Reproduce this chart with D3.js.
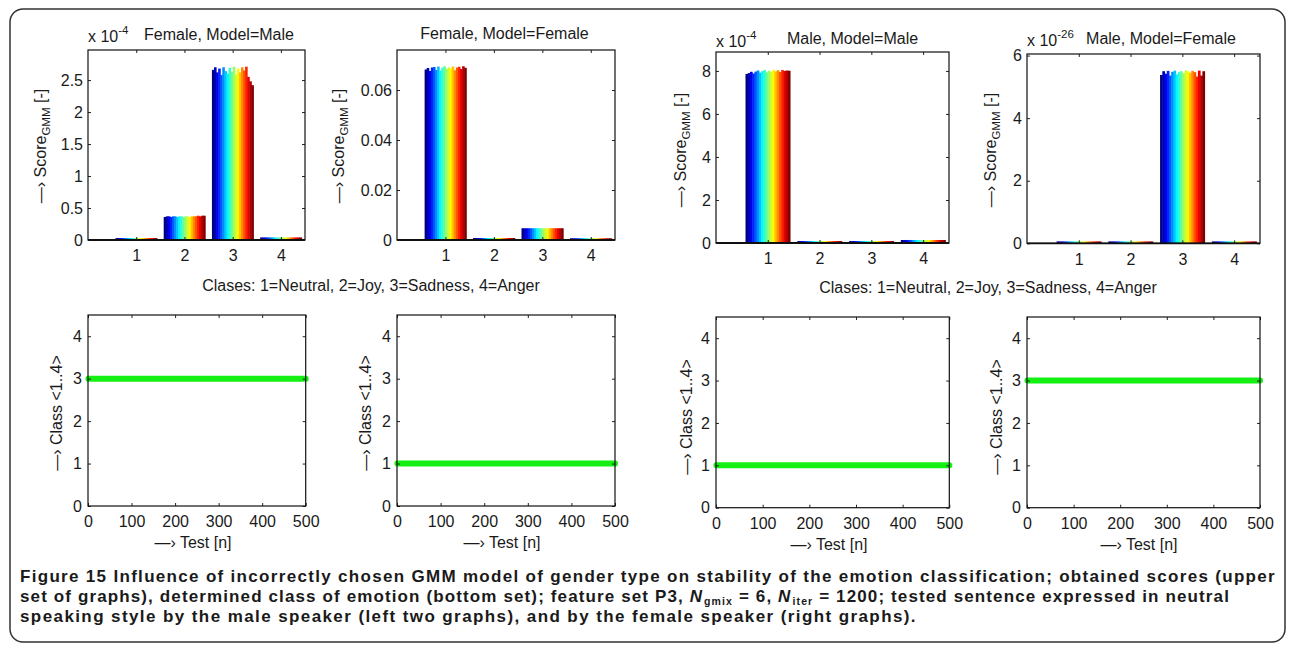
<!DOCTYPE html>
<html>
<head>
<meta charset="utf-8">
<script src="https://cdn.jsdelivr.net/npm/d3@7"></script>
<style>
  body { margin: 0; background: #fff; }
  text { font-family: "Liberation Sans", Arial, sans-serif; fill: #1a1a1a; }
</style>
</head>
<body>
<div id="figura"></div>
<script>
// ---- data ----
const classes = [1, 2, 3, 4]
const classNote = 'Clases: 1=Neutral, 2=Joy, 3=Sadness, 4=Anger'

// scores per class, one value per colour series (20 series, jet colours)
// Female, Model=Male  (x 10^-4)
const scoreFemaleMale = [
  [0.03,0.03,0.03,0.03,0.03,0.03,0.03,0.03,0.03,0.03,0.03,0.03,0.03,0.03,0.03,0.03,0.03,0.03,0.03,0.03],
  [0.36,0.37,0.37,0.36,0.37,0.37,0.36,0.37,0.37,0.36,0.37,0.37,0.36,0.37,0.37,0.37,0.38,0.37,0.38,0.38],
  [2.66,2.70,2.62,2.68,2.58,2.70,2.64,2.60,2.69,2.63,2.71,2.59,2.68,2.62,2.70,2.65,2.71,2.55,2.48,2.42],
  [0.04,0.04,0.04,0.04,0.04,0.04,0.04,0.04,0.04,0.04,0.04,0.04,0.04,0.04,0.04,0.04,0.04,0.04,0.04,0.04]
]
// Female, Model=Female
const scoreFemaleFemale = [
  [0.0682,0.0688,0.0676,0.0690,0.0692,0.0680,0.0694,0.0678,0.0689,0.0695,0.0684,0.0691,0.0686,0.0694,0.0679,0.0690,0.0693,0.0684,0.0695,0.0689],
  [0.0008,0.0008,0.0008,0.0008,0.0008,0.0008,0.0008,0.0008,0.0008,0.0008,0.0008,0.0008,0.0008,0.0008,0.0008,0.0008,0.0008,0.0008,0.0008,0.0008],
  [0.0047,0.0047,0.0047,0.0047,0.0047,0.0047,0.0047,0.0047,0.0047,0.0047,0.0047,0.0047,0.0047,0.0047,0.0047,0.0047,0.0047,0.0047,0.0047,0.0047],
  [0.0007,0.0007,0.0007,0.0007,0.0007,0.0007,0.0007,0.0007,0.0007,0.0007,0.0007,0.0007,0.0007,0.0007,0.0007,0.0007,0.0007,0.0007,0.0007,0.0007]
]
// Male, Model=Male  (x 10^-4)
const scoreMaleMale = [
  [7.86,7.90,7.96,7.88,7.97,8.02,7.92,7.99,8.04,7.94,8.01,7.96,8.05,7.98,8.03,7.95,8.04,8.00,8.02,8.01],
  [0.09,0.09,0.09,0.09,0.09,0.09,0.09,0.09,0.09,0.09,0.09,0.09,0.09,0.09,0.09,0.09,0.09,0.09,0.09,0.09],
  [0.09,0.09,0.09,0.09,0.09,0.09,0.09,0.09,0.09,0.09,0.09,0.09,0.09,0.09,0.09,0.09,0.09,0.09,0.09,0.09],
  [0.14,0.14,0.14,0.14,0.14,0.14,0.14,0.14,0.14,0.14,0.14,0.14,0.14,0.14,0.14,0.14,0.14,0.14,0.14,0.14]
]
// Male, Model=Female  (x 10^-26)
const scoreMaleFemale = [
  [0.06,0.06,0.06,0.06,0.06,0.06,0.06,0.06,0.06,0.06,0.06,0.06,0.06,0.06,0.06,0.06,0.06,0.06,0.06,0.06],
  [0.06,0.06,0.06,0.06,0.06,0.06,0.06,0.06,0.06,0.06,0.06,0.06,0.06,0.06,0.06,0.06,0.06,0.06,0.06,0.06],
  [5.38,5.50,5.42,5.51,5.36,5.48,5.52,5.40,5.47,5.50,5.44,5.53,5.49,5.45,5.51,5.47,5.33,5.52,5.36,5.50],
  [0.06,0.06,0.06,0.06,0.06,0.06,0.06,0.06,0.06,0.06,0.06,0.06,0.06,0.06,0.06,0.06,0.06,0.06,0.06,0.06]
]

const ticksFemaleMale = [0, 0.5, 1, 1.5, 2, 2.5]
const ticksFemaleFemale = [0, 0.02, 0.04, 0.06]
const ticksMaleMale = [0, 2, 4, 6, 8]
const ticksMaleFemale = [0, 2, 4, 6]

// decided class over the tests
const tests = [1, 100, 200, 300, 400, 500]
const classFemaleMale = [3, 3, 3, 3, 3, 3]
const classFemaleFemale = [1, 1, 1, 1, 1, 1]
const classMaleMale = [1, 1, 1, 1, 1, 1]
const classMaleFemale = [3, 3, 3, 3, 3, 3]
const testTicks = [0, 100, 200, 300, 400, 500]
const classTicks = [0, 1, 2, 3, 4]

// ---- drawing ----
const w = 1292
const h = 651
const fs = '16px'
const fsSmall = '11.5px'
const flecha = '\u2014\u203A'

const svg = d3.select('#figura').append('svg')
              .attr('width', w)
              .attr('height', h)

svg.append('rect')
   .attr('x', 10).attr('y', 9)
   .attr('width', 1275).attr('height', 633)
   .attr('rx', 13)
   .attr('fill', 'none')
   .attr('stroke', '#333')
   .attr('stroke-width', 1.5)

// MATLAB jet colormap
function jet(t){
  const c = v => Math.max(0, Math.min(1, v))
  const r = c(1.5 - Math.abs(4 * t - 3))
  const g = c(1.5 - Math.abs(4 * t - 2))
  const b = c(1.5 - Math.abs(4 * t - 1))
  return d3.rgb(r * 255, g * 255, b * 255).toString()
}

function marco(g, x, y, xticks, yticks, xfmt, padX, padY){
  const box = g.append('g')
  box.append('g')
     .attr('transform', 'translate(' + x.range()[0] + ',0)')
     .call(d3.axisLeft(y).tickValues(yticks).tickSize(-3).tickPadding(padY).tickFormat(d => d))
  box.append('g')
     .attr('transform', 'translate(' + x.range()[1] + ',0)')
     .call(d3.axisRight(y).tickValues(yticks).tickSize(-3).tickFormat(''))
  box.append('g')
     .attr('transform', 'translate(0,' + y.range()[0] + ')')
     .call(d3.axisBottom(x).tickValues(xticks).tickSize(-3).tickPadding(padX).tickFormat(xfmt))
  box.append('g')
     .attr('transform', 'translate(0,' + y.range()[1] + ')')
     .call(d3.axisTop(x).tickValues(xticks).tickSize(-3).tickFormat(''))
  box.selectAll('.domain').remove()
  box.selectAll('.tick line').attr('stroke', '#222')
  box.selectAll('.tick text')
     .style('font-family', '"Liberation Sans", Arial, sans-serif')
     .style('font-size', fs)
     .attr('fill', '#1a1a1a')
  g.append('rect')
   .attr('x', x.range()[0]).attr('y', y.range()[1])
   .attr('width', x.range()[1] - x.range()[0])
   .attr('height', y.range()[0] - y.range()[1])
   .attr('fill', 'none')
   .attr('stroke', '#111')
   .attr('stroke-width', 1.2)
}

function rotLabel(g, cx, cy, main, sub, tail){
  const t = g.append('text')
             .attr('transform', 'translate(' + cx + ',' + cy + ') rotate(-90)')
             .attr('text-anchor', 'middle')
             .style('font-size', fs)
  t.append('tspan').text(flecha + ' ' + main)
  if (sub) {
    t.append('tspan').attr('dy', 4).style('font-size', fsSmall).text(sub)
    t.append('tspan').attr('dy', -4).text(tail)
  } else if (tail) {
    t.append('tspan').text(tail)
  }
}

function barras(p){
  const g = svg.append('g')
  const x = d3.scaleLinear().domain([0, 4.5]).range([p.l, p.r])
  const y = d3.scaleLinear().domain([0, p.ymax]).range([p.b, p.t])
  const n = p.data[0].length
  const inner = d3.scaleBand().domain(d3.range(n)).range([-0.43, 0.43])
  const bw = x(inner.bandwidth()) - x(0)

  p.data.forEach((serie, ci) => {
    g.append('g').selectAll('rect')
     .data(serie)
     .enter()
     .append('rect')
     .attr('x', (d, i) => x(classes[ci] + inner(i)))
     .attr('width', bw + 0.5)
     .attr('y', d => y(d))
     .attr('height', d => y(0) - y(d))
     .attr('fill', (d, i) => jet(i / (n - 1)))
  })

  g.append('line')
   .attr('x1', x(0)).attr('x2', x(4.5))
   .attr('y1', y(0)).attr('y2', y(0))
   .attr('stroke', '#111').attr('stroke-width', 1.8)

  marco(g, x, y, classes, p.ticks, d => d, 10, 5)

  g.append('text')
   .attr('x', p.titleX).attr('y', p.titleY)
   .attr('text-anchor', 'middle')
   .style('font-size', fs)
   .text(p.title)

  if (p.exp) {
    const e = g.append('text')
               .attr('x', p.l).attr('y', p.expY)
               .style('font-size', fs)
    e.append('tspan').text('x 10')
    e.append('tspan').attr('dy', -8).style('font-size', fsSmall).text(p.exp)
  }

  rotLabel(g, p.labX, p.labY, 'Score', 'GMM', ' [-]')
}

function clases(p){
  const g = svg.append('g')
  const x = d3.scaleLinear().domain([0, 500]).range([p.l, p.r])
  const y = d3.scaleLinear().domain([0, 4.5]).range([p.b, p.t])

  const linea = d3.line()
                  .x(d => x(d[0]))
                  .y(d => y(d[1]))

  g.append('path')
   .datum(tests.map((t, i) => [t, p.data[i]]))
   .attr('d', linea)
   .attr('fill', 'none')
   .attr('stroke', '#14f014')
   .attr('stroke-width', 6)
   .attr('stroke-linecap', 'round')

  marco(g, x, y, testTicks, classTicks, d => d, 10, 6)

  rotLabel(g, p.labX, p.labY, 'Class <1..4>', null, '')

  g.append('text')
   .attr('x', p.testX).attr('y', p.testY)
   .attr('text-anchor', 'middle')
   .style('font-size', fs)
   .text(flecha + ' Test [n]')
}

barras({ data: scoreFemaleMale, ticks: ticksFemaleMale, ymax: 2.97,
         l: 88, r: 305, t: 50, b: 240, title: 'Female, Model=Male', titleX: 219, titleY: 39.5,
         exp: '-4', expY: 41.5, labX: 46, labY: 146 })
barras({ data: scoreFemaleFemale, ticks: ticksFemaleFemale, ymax: 0.076,
         l: 397, r: 615, t: 50, b: 240, title: 'Female, Model=Female', titleX: 504.5, titleY: 38.5,
         labX: 344, labY: 146 })
barras({ data: scoreMaleMale, ticks: ticksMaleMale, ymax: 8.88,
         l: 716, r: 949, t: 52, b: 243, title: 'Male, Model=Male', titleX: 852.5, titleY: 44,
         exp: '-4', expY: 46.5, labX: 686, labY: 150 })
barras({ data: scoreMaleFemale, ticks: ticksMaleFemale, ymax: 6.05,
         l: 1027, r: 1260, t: 54, b: 243.3, title: 'Male, Model=Female', titleX: 1161, titleY: 44,
         exp: '-26', expY: 46, labX: 996, labY: 150 })

svg.append('text').attr('x', 371).attr('y', 290.5).attr('text-anchor', 'middle')
   .style('font-size', fs).text(classNote)
svg.append('text').attr('x', 988).attr('y', 292.5).attr('text-anchor', 'middle')
   .style('font-size', fs).text(classNote)

clases({ data: classFemaleMale, l: 88, r: 305.7, t: 315, b: 506,
         labX: 62, labY: 413, testX: 193, testY: 548 })
clases({ data: classFemaleFemale, l: 397, r: 615, t: 315, b: 506,
         labX: 371, labY: 413, testX: 502, testY: 548 })
clases({ data: classMaleMale, l: 716, r: 949.3, t: 317, b: 507.7,
         labX: 692, labY: 417, testX: 829, testY: 550 })
clases({ data: classMaleFemale, l: 1027, r: 1260, t: 317, b: 507.7,
         labX: 1002, labY: 417, testX: 1139, testY: 550 })

// caption
const leyenda = svg.append('g')

const lineas = [
  { y: 582, ancho: 1256, partes: [['Figure 15 Influence of incorrectly chosen GMM model of gender type on stability of the emotion classification; obtained scores (upper']] },
  { y: 602, ancho: 1208, partes: [['set of graphs), determined class of emotion (bottom set); feature set P3, '], ['N', 'i'], ['gmix', 's'], [' = 6, '], ['N', 'i'], ['iter', 's'], [' = 1200; tested sentence expressed in neutral']] },
  { y: 622, ancho: 897, partes: [['speaking style by the male speaker (left two graphs), and by the female speaker (right graphs).']] }
]

lineas.forEach(l => {
  const t = leyenda.append('text').attr('x', 20).attr('y', l.y)
                   .style('font-family', '"Liberation Sans", Arial, sans-serif')
                   .style('font-weight', 'bold')
                   .style('font-size', '17px')
                   .attr('fill', '#222')
  let abajo = false
  l.partes.forEach(p => {
    const s = t.append('tspan').text(p[0])
    if (p[1] === 'i') s.style('font-style', 'italic')
    if (p[1] === 's') { s.attr('dy', 3).attr('dx', 1).style('font-size', '10.5px'); abajo = true }
    else if (abajo) { s.attr('dy', -3); abajo = false }
  })
  const medido = t.node().getComputedTextLength()
  const letras = t.text().length
  t.style('letter-spacing', ((l.ancho - medido) / letras) + 'px')
})
</script>
</body>
</html>
